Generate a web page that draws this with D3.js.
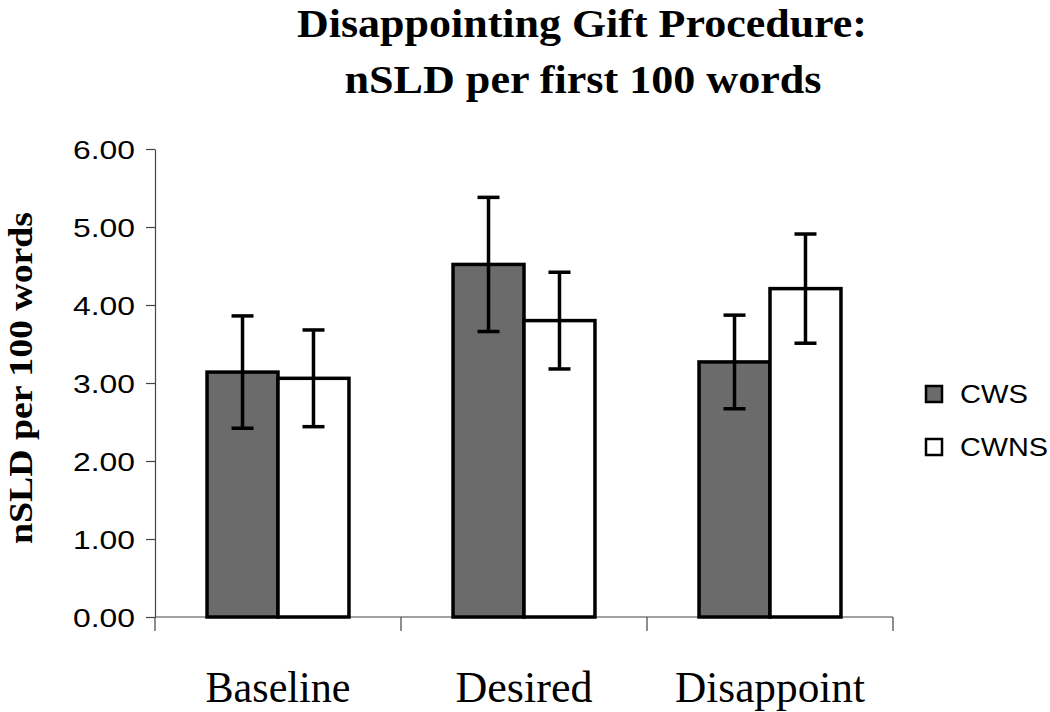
<!DOCTYPE html>
<html lang="en">
<head>
  <meta charset="UTF-8">
  <title>Disappointing Gift Procedure</title>
  <script src="https://d3js.org/d3.v7.min.js"></script>
  <style>
    body { margin: 0; background: #fff; }
    .title { font-family: 'Liberation Serif', 'Times New Roman', serif; font-weight: bold; font-size: 40px; }
    .ylabel { font-family: 'Liberation Serif', 'Times New Roman', serif; font-weight: bold; font-size: 33px; }
    .cat { font-family: 'Liberation Serif', 'Times New Roman', serif; font-size: 45px; }
    .axis text { font-family: 'Liberation Sans', Arial, sans-serif; font-size: 26px; fill: #000; }
    .axis path, .axis line { stroke: #444; stroke-width: 1.2; }
    .legend text { font-family: 'Liberation Sans', Arial, sans-serif; font-size: 25px; }
    .bar { stroke: #000; stroke-width: 3.5; }
    .err { stroke: #000; stroke-width: 3.5; fill: none; }
  </style>
</head>
<body>
  <svg width="1050" height="712"></svg>
  <script>
    const categories = ["Baseline", "Desired", "Disappoint"];
    const series = ["CWS", "CWNS"];
    const cws = [3.14, 4.52, 3.27];
    const cwsErr = [0.72, 0.86, 0.60];
    const cwns = [3.06, 3.80, 4.21];
    const cwnsErr = [0.62, 0.62, 0.70];
    const yTicks = [0, 1, 2, 3, 4, 5, 6];
    const colors = { CWS: "#6b6b6b", CWNS: "#ffffff" };

    const svg = d3.select("svg");
    const plot = { left: 155, right: 893, top: 149, bottom: 617 };

    const x = d3.scaleBand()
      .domain(categories)
      .range([plot.left, plot.right])
      .paddingInner(0.423)
      .paddingOuter(0.2115);
    const xs = d3.scaleBand().domain(series).range([0, x.bandwidth()]);
    const y = d3.scaleLinear().domain([0, 6]).range([plot.bottom, plot.top]);

    // title
    svg.append("text").attr("class", "title")
      .attr("x", 582).attr("y", 37).attr("text-anchor", "middle")
      .attr("textLength", 570).attr("lengthAdjust", "spacingAndGlyphs")
      .text("Disappointing Gift Procedure:");
    svg.append("text").attr("class", "title")
      .attr("x", 583).attr("y", 93).attr("text-anchor", "middle")
      .attr("textLength", 477).attr("lengthAdjust", "spacingAndGlyphs")
      .text("nSLD per first 100 words");

    // y axis
    const yAxis = svg.append("g").attr("class", "axis")
      .attr("transform", `translate(${plot.left},0)`)
      .call(d3.axisLeft(y).tickValues(yTicks).tickFormat(d3.format(".2f")).tickSize(9).tickPadding(11).tickSizeOuter(0));
    yAxis.selectAll("text").attr("textLength", 62).attr("lengthAdjust", "spacingAndGlyphs").attr("dy", "0.36em");

    svg.append("text").attr("class", "ylabel")
      .attr("transform", `translate(32,378) rotate(-90)`)
      .attr("text-anchor", "middle")
      .attr("textLength", 332).attr("lengthAdjust", "spacingAndGlyphs")
      .text("nSLD per 100 words");

    // x axis line + category boundary ticks
    svg.append("line")
      .attr("x1", plot.left).attr("x2", plot.right)
      .attr("y1", y(0)).attr("y2", y(0))
      .attr("stroke", "#444").attr("stroke-width", 1.2);
    const bounds = d3.range(categories.length + 1).map(i => plot.left + i * x.step());
    svg.selectAll(".xtick").data(bounds).join("line")
      .attr("class", "xtick")
      .attr("x1", d => d).attr("x2", d => d)
      .attr("y1", y(0)).attr("y2", y(0) + 14)
      .attr("stroke", "#444").attr("stroke-width", 1.2);

    const catWidths = [145, 137, 190];
    svg.selectAll(".cat").data(categories).join("text")
      .attr("class", "cat")
      .attr("x", d => x(d) + x.bandwidth() / 2)
      .attr("y", 702)
      .attr("text-anchor", "middle")
      .attr("textLength", (d, i) => catWidths[i])
      .attr("lengthAdjust", "spacingAndGlyphs")
      .text(d => d);

    // bars
    const rows = [];
    categories.forEach((c, i) => {
      rows.push({ cat: c, s: "CWS", v: cws[i], e: cwsErr[i] });
      rows.push({ cat: c, s: "CWNS", v: cwns[i], e: cwnsErr[i] });
    });

    svg.selectAll(".bar").data(rows).join("rect")
      .attr("class", "bar")
      .attr("x", d => x(d.cat) + xs(d.s))
      .attr("width", xs.bandwidth())
      .attr("y", d => y(d.v))
      .attr("height", d => y(0) - y(d.v))
      .attr("fill", d => colors[d.s]);

    // error bars
    const cap = 11;
    const eg = svg.selectAll(".errg").data(rows).join("g").attr("class", "errg");
    eg.append("line").attr("class", "err")
      .attr("x1", d => x(d.cat) + xs(d.s) + xs.bandwidth() / 2)
      .attr("x2", d => x(d.cat) + xs(d.s) + xs.bandwidth() / 2)
      .attr("y1", d => y(d.v + d.e)).attr("y2", d => y(d.v - d.e));
    eg.append("line").attr("class", "err")
      .attr("x1", d => x(d.cat) + xs(d.s) + xs.bandwidth() / 2 - cap)
      .attr("x2", d => x(d.cat) + xs(d.s) + xs.bandwidth() / 2 + cap)
      .attr("y1", d => y(d.v + d.e)).attr("y2", d => y(d.v + d.e));
    eg.append("line").attr("class", "err")
      .attr("x1", d => x(d.cat) + xs(d.s) + xs.bandwidth() / 2 - cap)
      .attr("x2", d => x(d.cat) + xs(d.s) + xs.bandwidth() / 2 + cap)
      .attr("y1", d => y(d.v - d.e)).attr("y2", d => y(d.v - d.e));

    // legend
    const legend = svg.append("g").attr("class", "legend");
    const legendWidths = [68, 88];
    series.forEach((s, i) => {
      const ly = 386 + i * 53;
      legend.append("rect")
        .attr("x", 926).attr("y", ly).attr("width", 16).attr("height", 16)
        .attr("fill", colors[s]).attr("stroke", "#000").attr("stroke-width", 2.5);
      legend.append("text")
        .attr("x", 960).attr("y", ly + 17)
        .attr("textLength", legendWidths[i]).attr("lengthAdjust", "spacingAndGlyphs")
        .text(s);
    });
  </script>
</body>
</html>
